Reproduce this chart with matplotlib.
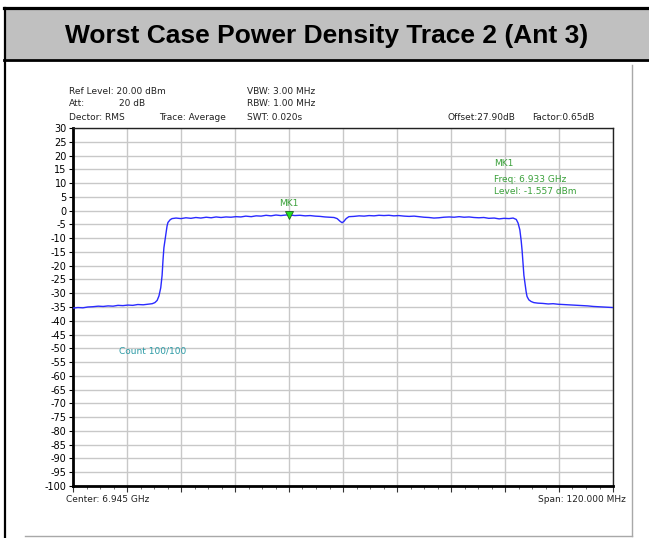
import matplotlib
matplotlib.use("Agg")
import matplotlib.pyplot as plt
from matplotlib.lines import Line2D
from matplotlib.patches import Rectangle
import numpy as np

plt.rcParams["axes.unicode_minus"] = False

# trace (GHz, dBm)
freq_ghz = [
    6.8850, 6.8861, 6.8872, 6.8883, 6.8894, 6.8906, 6.8917, 6.8928, 6.8939, 6.8950,
    6.8961, 6.8972, 6.8983, 6.8994, 6.9006, 6.9017, 6.9026, 6.9032, 6.9037, 6.9041,
    6.9045, 6.9048, 6.9050, 6.9052, 6.9055, 6.9057, 6.9059, 6.9061, 6.9066, 6.9070,
    6.9079, 6.9090, 6.9101, 6.9112, 6.9123, 6.9134, 6.9146, 6.9157, 6.9168, 6.9179,
    6.9190, 6.9201, 6.9212, 6.9223, 6.9234, 6.9246, 6.9257, 6.9268, 6.9279, 6.9290,
    6.9301, 6.9312, 6.9323, 6.9330, 6.9343, 6.9354, 6.9366, 6.9377, 6.9388, 6.9399,
    6.9410, 6.9421, 6.9430, 6.9437, 6.9443, 6.9448, 6.9452, 6.9457, 6.9463, 6.9474,
    6.9486, 6.9497, 6.9508, 6.9519, 6.9530, 6.9541, 6.9552, 6.9563, 6.9574, 6.9586,
    6.9597, 6.9608, 6.9619, 6.9630, 6.9641, 6.9652, 6.9663, 6.9674, 6.9686, 6.9697,
    6.9708, 6.9719, 6.9730, 6.9741, 6.9752, 6.9763, 6.9774, 6.9786, 6.9797, 6.9808,
    6.9819, 6.9828, 6.9835, 6.9839, 6.9843, 6.9846, 6.9848, 6.9850, 6.9852, 6.9855,
    6.9857, 6.9859, 6.9863, 6.9868, 6.9874, 6.9883, 6.9894, 6.9906, 6.9917, 6.9928,
    6.9939, 6.9950, 6.9961, 6.9972, 6.9983, 6.9994, 7.0006, 7.0017, 7.0028, 7.0039,
    7.0050,
]
level_dbm = [
    -35.4, -35.2, -35.3, -35.0, -34.9, -34.7, -34.8, -34.6, -34.7, -34.4,
    -34.5, -34.3, -34.4, -34.1, -34.2, -34.0, -33.8, -33.4, -32.6, -31.0,
    -28.0, -23.5, -18.0, -13.5, -10.0, -7.5, -5.6, -4.3, -3.3, -2.9,
    -2.7, -2.9, -2.6, -2.8, -2.5, -2.7, -2.4, -2.6, -2.3, -2.5,
    -2.3, -2.4, -2.2, -2.3, -2.0, -2.2, -1.9, -2.0, -1.7, -1.9,
    -1.6, -1.8, -1.6, -1.557, -1.8, -1.7, -1.9, -1.8, -2.0, -2.1,
    -2.3, -2.4, -2.5, -2.9, -3.8, -4.4, -3.9, -2.9, -2.2, -2.1,
    -1.9, -2.0, -1.8, -1.9, -1.7, -1.8, -1.7, -1.9, -1.8, -2.0,
    -2.1, -2.0, -2.2, -2.4, -2.5, -2.7, -2.6, -2.4, -2.3, -2.4,
    -2.2, -2.4, -2.3, -2.5, -2.6, -2.5, -2.8, -2.7, -3.0, -2.8,
    -2.9, -2.7, -3.2, -4.5, -7.0, -11.0, -14.5, -19.0, -23.5, -27.0,
    -29.5, -31.2, -32.4, -33.0, -33.4, -33.6, -33.7, -33.9, -33.8, -34.0,
    -34.1, -34.2, -34.3, -34.4, -34.5, -34.6, -34.8, -34.9, -35.0, -35.1,
    -35.2,
]

center_ghz = 6.945
span_mhz = 120.0
mk1_freq = 6.933
mk1_level = -1.557

W, H = 649, 538


def px(x, y):
    # pixel coords (from top-left) -> figure fraction
    return x / W, 1 - y / H


fig = plt.figure(figsize=(W / 100, H / 100), dpi=100)
fig.patch.set_facecolor("white")

# table header band
fig.patches.append(Rectangle(px(6, 59), (W - 6) / W, 50 / H, transform=fig.transFigure,
                             facecolor="#c0c0c0", edgecolor="none", zorder=0))
fig.add_artist(Line2D([4 / W, 1], [1 - 8 / H] * 2, color="black", lw=2.3))
fig.add_artist(Line2D([4 / W, 1], [1 - 60 / H] * 2, color="black", lw=2.0))
fig.add_artist(Line2D([5 / W] * 2, [0, 1 - 8 / H], color="black", lw=1.6))
fig.text(*px(327, 36), "Worst Case Power Density Trace 2 (Ant 3)", ha="center", va="center",
         fontsize=19, fontweight="bold", family="Liberation Sans")

# frame of the screenshot (right + bottom edges only)
fig.add_artist(Line2D([632 / W] * 2, [1 - 536 / H, 1 - 65 / H], color="#a8a8a8", lw=1))
fig.add_artist(Line2D([25 / W, 632 / W], [1 - 536 / H] * 2, color="#a8a8a8", lw=1))

ax = fig.add_axes([73 / W, 1 - 486 / H, 540 / W, 358 / H])
f0 = center_ghz - span_mhz / 2000
f1 = center_ghz + span_mhz / 2000
ax.set_xlim(f0, f1)
ax.set_ylim(-100, 30)

ax.set_xticks(np.linspace(f0, f1, 11))
ax.set_xticks(np.linspace(f0, f1, 41), minor=True)
ax.set_xticklabels([])
ax.set_yticks(np.arange(-100, 31, 5))
ax.tick_params(axis="y", labelsize=7, length=3, width=0.8, pad=1.5, colors="black")
ax.tick_params(axis="x", which="major", length=4, width=0.8, color="#333333")
ax.tick_params(axis="x", which="minor", length=2.5, width=0.6, color="#555555")
ax.grid(True, color="#c8c8c8", lw=1.0)
ax.set_axisbelow(True)
for side in ["left", "bottom"]:
    ax.spines[side].set_linewidth(2.0)
    ax.spines[side].set_color("black")
for side in ["top", "right"]:
    ax.spines[side].set_linewidth(1.0)
    ax.spines[side].set_color("#222222")

ax.plot(freq_ghz, level_dbm, color="#2a2aff", lw=1.0, zorder=3)

# marker MK1
ax.plot([mk1_freq], [mk1_level], marker="v", markersize=6, markerfacecolor="#22dd22",
        markeredgecolor="#206020", markeredgewidth=0.6, zorder=4)
ax.text(mk1_freq, mk1_level + 4.3, "MK1", ha="center", va="center", fontsize=6.5,
        color="#3aa03a", family="DejaVu Sans")

small = dict(fontsize=6.5, va="center", family="DejaVu Sans", color="#222222")
fig.text(*px(69, 92), "Ref Level: 20.00 dBm", **small)
fig.text(*px(69, 104), "Att:", **small)
fig.text(*px(119, 104), "20 dB", **small)
fig.text(*px(69, 117), "Dector: RMS", **small)
fig.text(*px(159, 117), "Trace: Average", **small)
fig.text(*px(247, 92), "VBW: 3.00 MHz", **small)
fig.text(*px(247, 104), "RBW: 1.00 MHz", **small)
fig.text(*px(247, 117), "SWT: 0.020s", **small)
fig.text(*px(448, 118), "Offset:27.90dB", **small)
fig.text(*px(532, 118), "Factor:0.65dB", **small)

green = dict(fontsize=6.5, va="center", family="DejaVu Sans", color="#3aa03a")
fig.text(*px(494, 164), "MK1", **green)
fig.text(*px(494, 179), "Freq: 6.933 GHz", **green)
fig.text(*px(494, 192), "Level: -1.557 dBm", **green)

fig.text(*px(119, 351), "Count 100/100", fontsize=6.5, va="center", family="DejaVu Sans",
         color="#2a9aa5")
fig.text(*px(66, 499), "Center: 6.945 GHz", **small)
fig.text(*px(626, 499), "Span: 120.000 MHz", ha="right", **small)

fig.savefig("out.png", dpi=100)
